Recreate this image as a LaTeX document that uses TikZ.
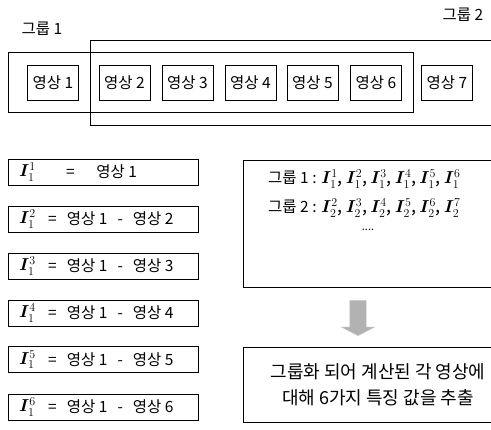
\documentclass[tikz,border=0pt]{standalone}
\usepackage{fontspec}
\usepackage{bm}
\setmainfont{Noto Sans CJK KR}
\usetikzlibrary{shapes.arrows}
\newcommand{\kf}{\fontsize{15.5}{17}\selectfont}
\newcommand{\mI}[2]{\fontsize{18}{20}\selectfont$\bm{I}^{#2}_{#1}$}
\newcommand{\gap}{\hspace{0.65em}}
\begin{document}
\begin{tikzpicture}[x=1pt,y=-1pt,
  box/.style={draw, line width=0.8pt, inner sep=0pt},
  img/.style={box, minimum width=51pt, minimum height=35pt, font=\kf},
  eqbox/.style={box, minimum width=190pt, minimum height=26pt},
  txt/.style={inner sep=0pt, font=\kf}]
\useasboundingbox (0,0) rectangle (491,430);
% group labels
\node[txt] (g1) at (42,29) {그룹 1};
\node[txt] (g2) at (463,15) {그룹 2};
% group frames
\node[box, minimum width=405pt, minimum height=60pt] (grp1) at (210.5,82) {};
\node[box, minimum width=420pt, minimum height=85pt, anchor=west] (grp2) at (90,82.5) {};
% image boxes
\foreach \i/\x in {1/53,2/124.5,3/187.5,4/250.5,5/312.5,6/376,7/447}
  \node[img, fill=white] (im\i) at (\x,82.5) {영상 \i};
% equation boxes
\foreach \k/\y in {1/172,2/219,3/266,4/313,5/359.5,6/407}
  \node[eqbox] (eq\k) at (103,\y) {};
\node[inner sep=0pt, anchor=west] (i1) at (19,172) {\mI{1}{1}};
\node[txt, anchor=west] (t1) at (66,172) {=\hspace{1.4em}영상 1};
\foreach \k/\y in {2/219,3/266,4/313,5/359.5,6/407}{
  \node[inner sep=0pt, anchor=west] (i\k) at (19,\y) {\mI{1}{\k}};
  \node[txt, anchor=west] (t\k) at (48,\y) {=\gap 영상 1\gap -\gap 영상 \k};
}
% right boxes
\node[box, minimum width=260pt, minimum height=127pt, anchor=north west] (rb1) at (243,160) {};
\node[txt, anchor=west] (r1) at (268,179) {그룹 1 : \mI{1}{1},\,\mI{1}{2},\,\mI{1}{3},\,\mI{1}{4},\,\mI{1}{5},\,\mI{1}{6}};
\node[txt, anchor=west] (r2) at (268,208) {그룹 2 : \mI{2}{2},\,\mI{2}{3},\,\mI{2}{4},\,\mI{2}{5},\,\mI{2}{6},\,\mI{2}{7}};
\node[txt] (r3) at (368,230) {\fontsize{11}{11}\selectfont.... };
\node[single arrow, shape border rotate=270, draw=gray!50, fill=gray!60, inner sep=8pt,
  minimum height=35pt, single arrow head extend=8pt, single arrow tip angle=125] (arr) at (358,316) {};
\node[box, minimum width=260pt, minimum height=75pt, anchor=north west] (rb2) at (243,347) {};
\node[txt, align=center, font=\fontsize{18}{26}\selectfont] (r4) at (378,385) {그룹화 되어 계산된 각 영상에\\대해 6가지 특징 값을 추출};
\end{tikzpicture}
\end{document}
